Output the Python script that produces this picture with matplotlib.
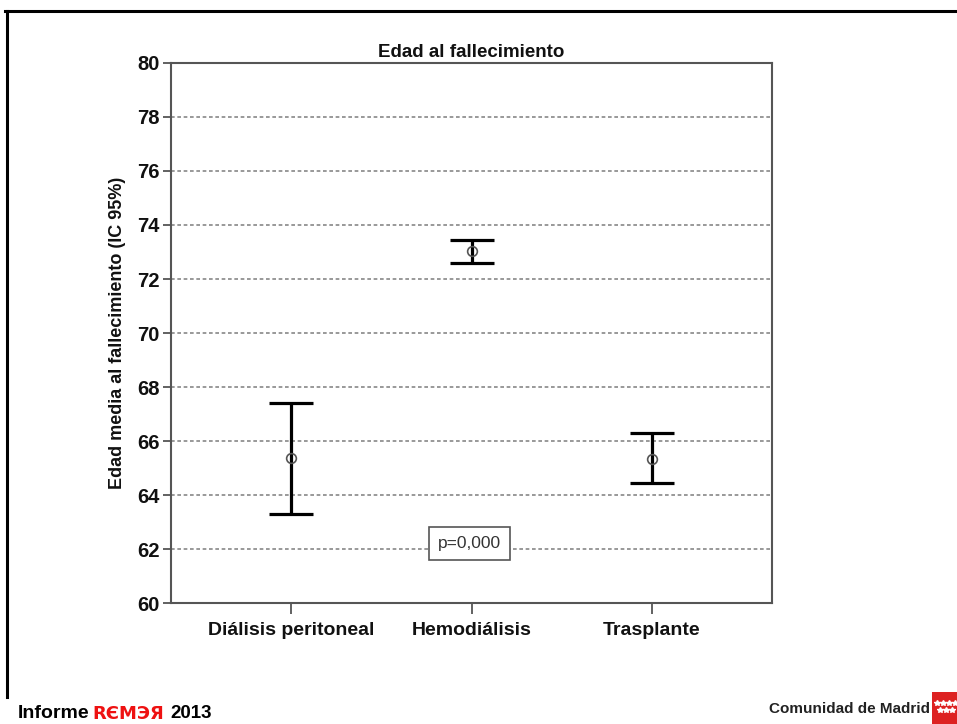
import matplotlib
matplotlib.use("Agg")
import matplotlib.pyplot as plt
from matplotlib.patches import Rectangle
from matplotlib.lines import Line2D

plt.rcParams['font.family'] = ['Liberation Sans', 'DejaVu Sans']

categories = ["Diálisis peritoneal", "Hemodiálisis", "Trasplante"]
means = [65.37, 73.04, 65.35]
ci_low = [63.30, 72.60, 64.46]
ci_high = [67.42, 73.44, 66.31]
y_ticks = [60, 62, 64, 66, 68, 70, 72, 74, 76, 78, 80]
p_text = "p=0,000"
title = "Edad al fallecimiento"
y_label = "Edad media al fallecimiento (IC 95%)"

fig = plt.figure(figsize=(9.57, 7.24), dpi=100)
ax = fig.add_axes([0.1787, 0.1671, 0.628, 0.7459])

x = list(range(len(categories)))
yerr = [[m - lo for m, lo in zip(means, ci_low)],
        [hi - m for m, hi in zip(means, ci_high)]]
ax.errorbar(x, means, yerr=yerr, fmt='none', ecolor='black', elinewidth=2.3,
            capsize=16, capthick=2.3, zorder=3)
ax.plot(x, means, 'o', mfc='none', mec='#555555', ms=7, mew=1.2, zorder=4)

ax.set_xlim(-0.667, 2.667)
ax.set_ylim(60, 80)
ax.set_yticks(y_ticks)
ax.set_yticklabels([str(t) for t in y_ticks], fontsize=14.5, fontweight='bold')
ax.set_xticks(x)
ax.set_xticklabels(categories, fontsize=14, fontweight='bold')
for lbl in ax.get_xticklabels() + ax.get_yticklabels():
    lbl.set_color('#111111')

for t in y_ticks[1:-1]:
    ax.axhline(t, color='#888888', lw=1.2, ls=(0, (2.2, 1.6)), zorder=1)

for s in ax.spines.values():
    s.set_color('#555555')
    s.set_linewidth(1.5)
ax.tick_params(axis='y', direction='out', length=6, width=1.3, color='#555555', pad=2)
ax.tick_params(axis='x', direction='out', length=8, width=1.3, color='#555555', pad=6)

ax.set_title(title, fontsize=13.5, fontweight='bold', pad=4, color='#111111')
ax.set_ylabel(y_label, fontsize=13, fontweight='bold', labelpad=8, color='#111111')

ax.text(0.989, 62.2, p_text, ha='center', va='center', fontsize=12.5, color='#333333',
        bbox=dict(boxstyle='square,pad=0.5', fc='white', ec='#555555', lw=1.2), zorder=5)

# slide frame
fig.add_artist(Line2D([5/957, 1.0], [1 - 11/724, 1 - 11/724], color='black', lw=2.2,
                      transform=fig.transFigure))
fig.add_artist(Line2D([7/957, 7/957], [1 - 11/724, 1 - 697/724], color='black', lw=2.2,
                      transform=fig.transFigure))

# footer
fy = 1 - 714/724
fig.text(18/957, fy, "Informe", fontsize=14, fontweight='bold', color='black', va='center')
fig.text(92/957, fy, "RЄMЭЯ", fontsize=13, fontweight='bold', color='#ee1111',
         va='center', family=['DejaVu Sans'])
fig.text(170/957, fy, "2013", fontsize=13.5, fontweight='bold', color='black', va='center')

fig.text(930/957, 1 - 709/724, "Comunidad de Madrid", fontsize=11, fontweight='bold',
         color='#222222', ha='right', va='center')
fig.add_artist(Rectangle((932/957, 0), 25/957, 32/724, transform=fig.transFigure,
                         fc='#dd2222', ec='none'))
star_x = [937, 943, 949, 955, 940, 946, 952]
star_y = [703, 703, 703, 703, 710, 710, 710]
fig.add_artist(Line2D([sx/957 for sx in star_x], [1 - sy/724 for sy in star_y], ls='none',
                      marker='*', ms=4, mfc='white', mec='white', transform=fig.transFigure))

fig.savefig("out.png", dpi=100)
